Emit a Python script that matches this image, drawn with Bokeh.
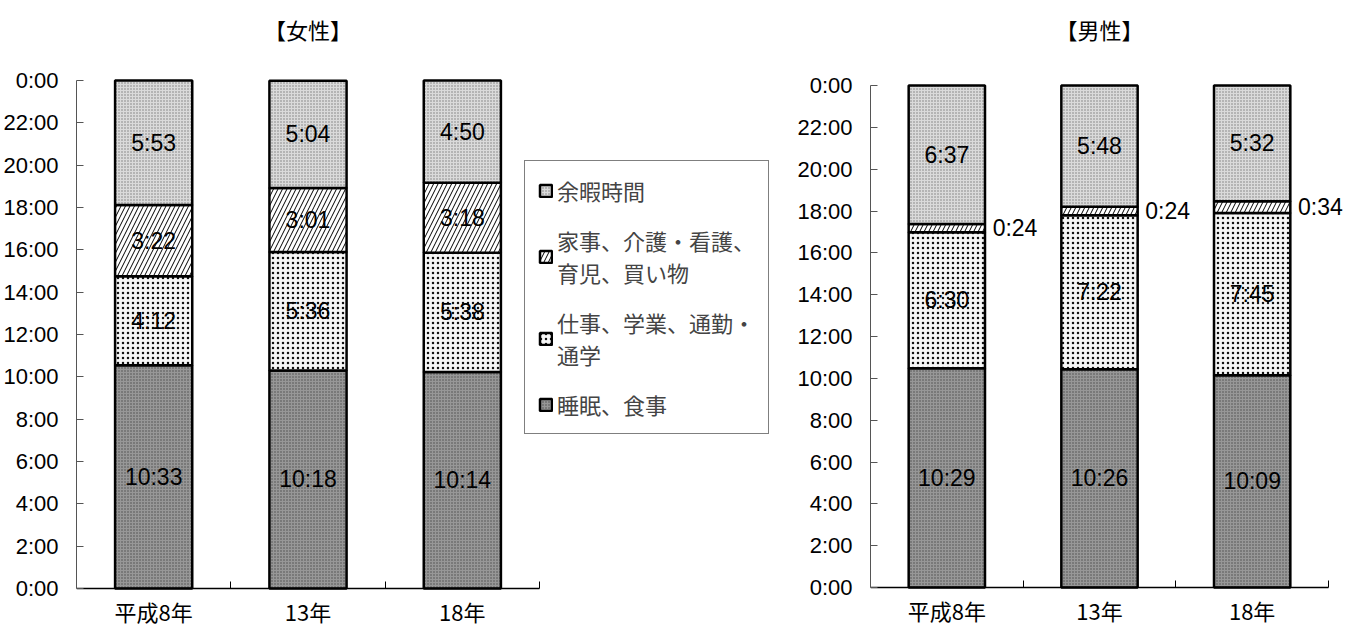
from bokeh.plotting import figure
from bokeh.models import ColumnDataSource, FixedTicker, Range1d, Legend, LegendItem, Label
from bokeh.layouts import row
from bokeh.embed import file_html
from bokeh.resources import INLINE
from bokeh.core.properties import value

# ---------------- data ----------------
categories = ["平成8年", "13年", "18年"]
series = ["睡眠、食事", "仕事、学業、通勤・通学", "家事、介護・看護、育児、買い物", "余暇時間"]
legend_labels = ["睡眠、食事", "仕事、学業、通勤・\n通学", "家事、介護・看護、\n育児、買い物", "余暇時間"]
titles = ["【女性】", "【男性】"]

female_sleep = ["10:33", "10:18", "10:14"]
female_work = ["4:12", "5:36", "5:38"]
female_house = ["3:22", "3:01", "3:18"]
female_leisure = ["5:53", "5:04", "4:50"]

male_sleep = ["10:29", "10:26", "10:09"]
male_work = ["6:30", "7:22", "7:45"]
male_house = ["0:24", "0:24", "0:34"]
male_leisure = ["6:37", "5:48", "5:32"]

y_ticks = list(range(0, 25, 2))
y_tick_labels = {t: f"{t % 24}:00" for t in y_ticks}

# ---------------- styles ----------------
styles = [
    dict(fill_color="#979797", hatch_pattern=".", hatch_color="#4a4a4a", hatch_scale=3, hatch_weight=1),
    dict(fill_color="#f6f6f6", hatch_pattern=".", hatch_color="#111111", hatch_scale=5, hatch_weight=1.5),
    dict(fill_color="#ffffff", hatch_pattern="/", hatch_color="#000000", hatch_scale=9, hatch_weight=1),
    dict(fill_color="#dadada", hatch_pattern=".", hatch_color="#7a7a7a", hatch_scale=3, hatch_weight=1),
]
NUM_FONT = "Liberation Sans"
JP_FONT = "Noto Sans CJK JP"

FIG_H = 625


def to_min(s):
    h, m = s.split(":")
    return int(h) * 60 + int(m)


def make_chart(title_text, values, outside, width, left, axis_px, top_px, bottom_px, title_px,
               legend_loc):
    # frame covers the whole figure height; axis at y=0 is fixed inside the frame
    ppu = (bottom_px - top_px) / 24.0
    y_start = -(FIG_H - bottom_px) / ppu
    y_end = 24 + top_px / ppu
    frame_w = width - left
    x_end = 3 * frame_w / axis_px
    p = figure(width=width, height=FIG_H, x_range=Range1d(0, x_end), y_range=Range1d(y_start, y_end),
               output_backend="svg", toolbar_location=None,
               min_border_left=left, min_border_top=0, min_border_bottom=0, min_border_right=0)
    p.outline_line_color = None
    p.xgrid.grid_line_color = None
    p.ygrid.grid_line_color = None
    p.background_fill_color = "white"

    x = [i + 0.5 for i in range(len(categories))]
    bottoms = [0] * len(categories)
    renderers = []
    in_x, in_y, in_t = [], [], []
    out_x, out_y, out_t = [], [], []
    for k, vals in enumerate(values):
        mins = [to_min(v) for v in vals]
        b = [bb / 60 for bb in bottoms]
        t = [(bb + m) / 60 for bb, m in zip(bottoms, mins)]
        src = ColumnDataSource(dict(x=x, bottom=b, top=t))
        r = p.vbar(x="x", bottom="bottom", top="top", width=0.5, source=src,
                   line_color="black", line_width=2.5, **styles[k])
        renderers.append(r)
        for i in range(len(x)):
            mid = (b[i] + t[i]) / 2
            if k in outside:
                out_x.append(x[i] + 0.30)
                out_y.append(mid)
                out_t.append(vals[i])
            else:
                in_x.append(x[i])
                in_y.append(mid)
                in_t.append(vals[i])
        bottoms = [bb + m for bb, m in zip(bottoms, mins)]

    p.text(x=in_x, y=in_y, text=in_t, text_align="center", text_baseline="middle",
           text_font=value(NUM_FONT), text_font_size=value("23px"), text_color="black")
    if out_x:
        p.text(x=out_x, y=out_y, text=out_t, text_align="left", text_baseline="middle",
               text_font=value(NUM_FONT), text_font_size=value("23px"), text_color="black")

    # title (centred over the category axis)
    p.add_layout(Label(x=1.5, y=24 + (top_px - title_px) / ppu, text=title_text, text_align="center",
                       text_baseline="middle", text_font=JP_FONT, text_font_size="22px",
                       text_color="black"))

    # y axis
    ya = p.yaxis[0]
    ya.bounds = (0, 24)
    ya.ticker = FixedTicker(ticks=y_ticks, minor_ticks=[])
    ya.major_label_overrides = y_tick_labels
    ya.major_label_text_font = NUM_FONT
    ya.major_label_text_font_size = "22px"
    ya.major_label_text_color = "black"
    ya.major_tick_in = 7
    ya.major_tick_out = 0
    ya.major_label_standoff = 18
    ya.axis_line_color = "#555555"
    ya.major_tick_line_color = "#555555"
    ya.minor_tick_line_color = None

    # x axis, pinned at y = 0
    xa = p.xaxis[0]
    xa.fixed_location = 0
    xa.bounds = (0, 3)
    xa.ticker = FixedTicker(ticks=x, minor_ticks=[1, 2, 3])
    xa.major_label_overrides = {xi: c for xi, c in zip(x, categories)}
    xa.major_label_text_font = JP_FONT
    xa.major_label_text_font_size = "22px"
    xa.major_label_text_color = "black"
    xa.major_tick_in = 0
    xa.major_tick_out = 0
    xa.major_tick_line_color = None
    xa.minor_tick_in = 7
    xa.minor_tick_out = 0
    xa.minor_tick_line_color = "black"
    xa.axis_line_color = "black"
    xa.axis_line_width = 1.5
    xa.major_label_standoff = 6

    if legend_loc is not None:
        items = [LegendItem(label=legend_labels[k], renderers=[renderers[k]]) for k in [3, 2, 1, 0]]
        lg = Legend(items=items, location=legend_loc)
        lg.label_text_font = JP_FONT
        lg.label_text_font_size = "22px"
        lg.label_text_line_height = 1.1
        lg.border_line_color = "black"
        lg.border_line_width = 1
        lg.glyph_width = 15
        lg.glyph_height = 15
        lg.label_standoff = 4
        lg.spacing = 18
        lg.padding = 13
        lg.margin = 0
        lg.background_fill_color = "white"
        lg.background_fill_alpha = 1
        p.add_layout(lg)
    return p


# left chart: axis x 79..542, 24h at y=80, 0h at y=588, title at y=30
left = make_chart(titles[0], [female_sleep, female_work, female_house, female_leisure], [],
                  780, 76, 463, 80, 588, 28, (448, FIG_H - 434))
# right chart: axis x 872..1330, 24h at y=85, 0h at y=587
right = make_chart(titles[1], [male_sleep, male_work, male_house, male_leisure], [2],
                   565, 90, 458, 85, 587, 28, None)

layout = row(left, right, spacing=0)
open("out.html", "w").write(file_html(layout, INLINE))
